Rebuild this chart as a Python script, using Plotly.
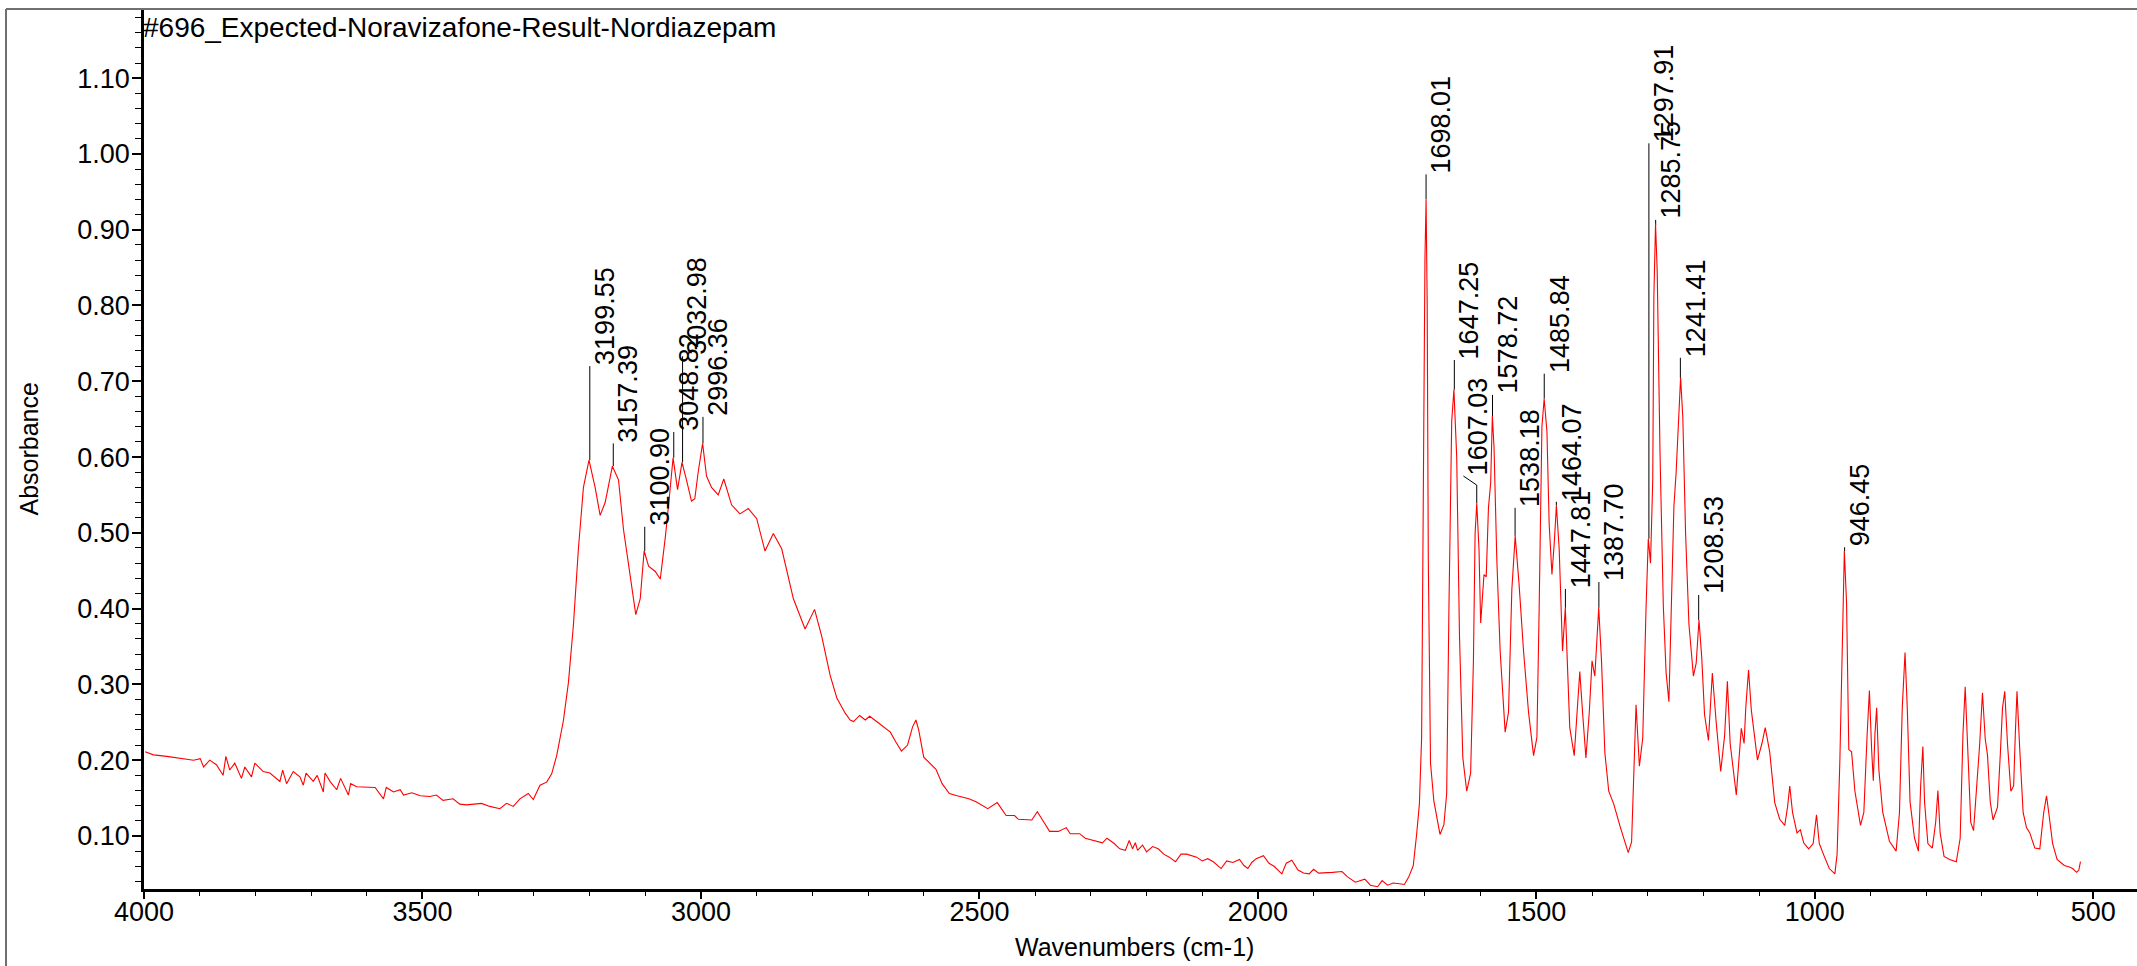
import plotly.graph_objects as go

# ---------------- data ----------------
wavenumber = [
    3998, 3983, 3959, 3935, 3911, 3899, 3893, 3882, 3870, 3858, 3853, 3846, 3837, 3825, 3819,
    3807, 3801, 3786, 3774, 3756, 3751, 3744, 3732, 3720, 3714, 3709, 3696, 3689, 3678, 3675,
    3666, 3654, 3647, 3633, 3629, 3618, 3600, 3585, 3570, 3565, 3552, 3540, 3534, 3519, 3504,
    3487, 3475, 3463, 3445, 3433, 3421, 3394, 3379, 3361, 3349, 3337, 3325, 3310, 3301, 3289,
    3277, 3268, 3259, 3247, 3238, 3229, 3220, 3211, 3201, 3190, 3181, 3172, 3159, 3148, 3139,
    3127, 3117, 3109, 3102, 3094, 3082, 3073, 3064, 3057, 3050, 3042, 3034, 3026, 3017, 3011,
    3005, 2997, 2990, 2981, 2969, 2959, 2945, 2930, 2915, 2900, 2885, 2870, 2855, 2834, 2813,
    2796, 2783, 2768, 2756, 2741, 2732, 2726, 2715, 2705, 2697, 2681, 2667, 2660, 2650, 2640,
    2629, 2620, 2614, 2609, 2600, 2588, 2578, 2567, 2554, 2540, 2519, 2506, 2485, 2468, 2452,
    2437, 2430, 2406, 2396, 2385, 2374, 2358, 2344, 2337, 2320, 2310, 2293, 2279, 2271, 2258,
    2248, 2238, 2231, 2225, 2220, 2216, 2207, 2200, 2189, 2179, 2169, 2159, 2148, 2138, 2128,
    2110, 2100, 2090, 2080, 2066, 2056, 2045, 2033, 2025, 2018, 2011, 2003, 1990, 1980, 1971,
    1957, 1949, 1939, 1928, 1918, 1908, 1900, 1891, 1866, 1849, 1839, 1825, 1808, 1798, 1785,
    1777, 1767, 1757, 1746, 1737, 1729, 1721, 1715, 1710, 1706, 1703, 1700, 1698, 1696, 1694,
    1690, 1684, 1673, 1666, 1661, 1657, 1652, 1648, 1643, 1638, 1632, 1625, 1618, 1613, 1610,
    1607, 1603, 1600, 1597, 1594, 1590, 1586, 1582, 1579, 1576, 1571, 1565, 1556, 1550, 1544,
    1538, 1531, 1523, 1514, 1505, 1499, 1495, 1490, 1486, 1481, 1477, 1472, 1468, 1464, 1459,
    1453, 1448, 1444, 1440, 1432, 1426, 1422, 1417, 1411, 1405, 1400, 1395, 1391, 1388, 1383,
    1377, 1370, 1361, 1349, 1335, 1329, 1325, 1321, 1315, 1309, 1303, 1299, 1295, 1291, 1289,
    1286, 1283, 1278, 1272, 1267, 1262, 1258, 1253, 1249, 1244, 1241, 1237, 1232, 1226, 1218,
    1213, 1208, 1203, 1198, 1191, 1184, 1177, 1169, 1162, 1157, 1152, 1141, 1132, 1127, 1124,
    1119, 1114, 1103, 1095, 1089, 1081, 1072, 1063, 1054, 1049, 1045, 1040, 1032, 1026, 1020,
    1011, 1003, 997, 992, 983, 974, 964, 960, 955, 951, 947, 943, 939, 934, 928,
    918, 912, 906, 902, 898, 895, 892, 889, 885, 878, 866, 854, 848, 843, 838,
    834, 829, 821, 814, 810, 806, 803, 797, 789, 783, 779, 775, 768, 758, 746,
    739, 734, 730, 725, 720, 715, 709, 704, 699, 694, 690, 685, 680, 672, 667,
    663, 659, 654, 648, 643, 640, 637, 632, 626, 620, 614, 605, 596, 589, 584,
    580, 573, 565, 552, 543, 537, 530, 526, 523,
]
absorbance = [
    0.211, 0.207, 0.205, 0.202, 0.200, 0.202, 0.191, 0.200, 0.194, 0.180, 0.205, 0.187, 0.196, 0.176, 0.191,
    0.178, 0.196, 0.185, 0.183, 0.172, 0.187, 0.169, 0.185, 0.178, 0.167, 0.183, 0.172, 0.180, 0.158, 0.183,
    0.172, 0.161, 0.176, 0.154, 0.169, 0.165, 0.165, 0.164, 0.149, 0.164, 0.158, 0.161, 0.154, 0.157, 0.153,
    0.152, 0.154, 0.147, 0.149, 0.142, 0.141, 0.143, 0.139, 0.136, 0.143, 0.139, 0.149, 0.156, 0.148, 0.167,
    0.171, 0.182, 0.206, 0.252, 0.302, 0.378, 0.479, 0.560, 0.596, 0.560, 0.523, 0.540, 0.588, 0.570, 0.504,
    0.439, 0.392, 0.413, 0.476, 0.456, 0.449, 0.439, 0.494, 0.545, 0.599, 0.557, 0.593, 0.570, 0.542, 0.545,
    0.580, 0.618, 0.575, 0.560, 0.550, 0.571, 0.537, 0.525, 0.532, 0.519, 0.476, 0.499, 0.479, 0.413, 0.373,
    0.399, 0.363, 0.312, 0.282, 0.262, 0.253, 0.251, 0.259, 0.253, 0.258, 0.249, 0.241, 0.237, 0.224, 0.212,
    0.220, 0.244, 0.253, 0.240, 0.204, 0.196, 0.188, 0.169, 0.156, 0.153, 0.149, 0.145, 0.136, 0.144, 0.127,
    0.127, 0.122, 0.121, 0.132, 0.119, 0.106, 0.106, 0.111, 0.103, 0.103, 0.097, 0.094, 0.091, 0.097, 0.090,
    0.083, 0.081, 0.094, 0.083, 0.091, 0.081, 0.088, 0.079, 0.086, 0.083, 0.076, 0.072, 0.066, 0.076, 0.076,
    0.072, 0.067, 0.070, 0.066, 0.057, 0.067, 0.065, 0.069, 0.061, 0.057, 0.065, 0.070, 0.074, 0.064, 0.060,
    0.050, 0.064, 0.068, 0.055, 0.051, 0.050, 0.056, 0.051, 0.052, 0.053, 0.046, 0.039, 0.043, 0.035, 0.033,
    0.041, 0.035, 0.038, 0.037, 0.036, 0.046, 0.061, 0.102, 0.142, 0.230, 0.580, 0.862, 0.940, 0.802, 0.465,
    0.196, 0.146, 0.102, 0.115, 0.156, 0.398, 0.647, 0.689, 0.600, 0.364, 0.203, 0.159, 0.183, 0.331, 0.499,
    0.539, 0.479, 0.381, 0.418, 0.445, 0.442, 0.533, 0.566, 0.654, 0.613, 0.465, 0.344, 0.237, 0.263, 0.425,
    0.496, 0.432, 0.344, 0.263, 0.206, 0.230, 0.398, 0.640, 0.677, 0.634, 0.512, 0.445, 0.485, 0.536, 0.479,
    0.344, 0.401, 0.331, 0.243, 0.206, 0.277, 0.317, 0.263, 0.203, 0.263, 0.331, 0.311, 0.358, 0.401, 0.331,
    0.210, 0.159, 0.142, 0.111, 0.078, 0.092, 0.196, 0.273, 0.192, 0.229, 0.402, 0.492, 0.460, 0.570, 0.811,
    0.908, 0.845, 0.607, 0.403, 0.315, 0.277, 0.400, 0.535, 0.580, 0.658, 0.705, 0.652, 0.498, 0.379, 0.311,
    0.328, 0.385, 0.335, 0.260, 0.226, 0.315, 0.249, 0.185, 0.232, 0.304, 0.222, 0.154, 0.242, 0.222, 0.269,
    0.319, 0.266, 0.200, 0.222, 0.243, 0.211, 0.144, 0.122, 0.114, 0.138, 0.166, 0.131, 0.104, 0.108, 0.091,
    0.083, 0.090, 0.128, 0.090, 0.073, 0.057, 0.050, 0.076, 0.200, 0.338, 0.476, 0.407, 0.214, 0.211, 0.159,
    0.114, 0.131, 0.235, 0.292, 0.214, 0.173, 0.235, 0.269, 0.187, 0.131, 0.093, 0.080, 0.131, 0.269, 0.342,
    0.269, 0.145, 0.097, 0.080, 0.166, 0.218, 0.145, 0.090, 0.084, 0.118, 0.160, 0.104, 0.073, 0.069, 0.066,
    0.097, 0.235, 0.297, 0.200, 0.118, 0.107, 0.166, 0.221, 0.289, 0.228, 0.207, 0.145, 0.121, 0.138, 0.207,
    0.269, 0.291, 0.221, 0.159, 0.166, 0.235, 0.291, 0.214, 0.131, 0.111, 0.104, 0.084, 0.083, 0.131, 0.153,
    0.131, 0.090, 0.069, 0.061, 0.059, 0.057, 0.052, 0.055, 0.066,
]

# peak picks: position, curve height, top of marker line, label anchor
peak_labels = ["3199.55", "3157.39", "3100.90", "3048.82", "3032.98", "2996.36", "1698.01",
               "1647.25", "1607.03", "1578.72", "1538.18", "1485.84", "1464.07", "1447.81",
               "1387.70", "1297.91", "1285.75", "1241.41", "1208.53", "946.45"]
peak_wn = [3199.55, 3157.39, 3100.90, 3048.82, 3032.98, 2996.36, 1698.01, 1647.25, 1607.03,
           1578.72, 1538.18, 1485.84, 1464.07, 1447.81, 1387.70, 1297.91, 1285.75, 1241.41,
           1208.53, 946.45]
peak_abs = [0.596, 0.588, 0.476, 0.599, 0.593, 0.618, 0.940, 0.689, 0.539, 0.654, 0.496,
            0.677, 0.536, 0.401, 0.401, 0.492, 0.906, 0.704, 0.385, 0.476]
line_top = [0.720, 0.618, 0.508, 0.633, 0.733, 0.653, 0.973, 0.728, 0.563, 0.682, 0.533,
            0.710, 0.541, 0.426, 0.435, 1.014, 0.913, 0.731, 0.418, 0.481]
label_wn = [3199.55, 3157.39, 3100.90, 3048.82, 3032.98, 2996.36, 1698.01, 1647.25, 1631.0,
            1578.72, 1538.18, 1485.84, 1464.07, 1447.81, 1387.70, 1297.91, 1285.75, 1241.41,
            1208.53, 946.45]
label_base = [0.720, 0.618, 0.508, 0.633, 0.733, 0.653, 0.973, 0.728, 0.575, 0.682, 0.533,
              0.710, 0.541, 0.426, 0.435, 1.014, 0.913, 0.731, 0.418, 0.481]

title_text = "#696_Expected-Noravizafone-Result-Nordiazepam"
x_title = "Wavenumbers (cm-1)"
y_title = "Absorbance"

FONT = "Liberation Sans, Arial, sans-serif"

fig = go.Figure()

# marker lines for peaks
lx, ly = [], []
for w, a, t, lw, lb in zip(peak_wn, peak_abs, line_top, label_wn, label_base):
    lx += [w, w, lw, None]
    ly += [a, t, lb, None]
fig.add_trace(go.Scatter(x=lx, y=ly, mode="lines", line=dict(color="#000000", width=1),
                         hoverinfo="skip", showlegend=False))

fig.add_trace(go.Scatter(x=wavenumber, y=absorbance, mode="lines",
                         line=dict(color="#ff0000", width=1.1), showlegend=False))

for txt, lw, lb in zip(peak_labels, label_wn, label_base):
    fig.add_annotation(x=lw, y=lb, xref="x", yref="y", text=txt, showarrow=False,
                       textangle=-90, xanchor="center", yanchor="bottom", xshift=15,
                       borderpad=0, font=dict(family=FONT, size=27, color="#000000"))

# title & axis titles
fig.add_annotation(x=0, y=1, xref="paper", yref="paper", text=title_text, showarrow=False,
                   xanchor="left", yanchor="middle", xshift=-2, yshift=-17, borderpad=0,
                   font=dict(family=FONT, size=28, color="#000000"))
fig.add_annotation(x=0.5, y=0, xref="paper", yref="paper", text=x_title, showarrow=False,
                   xanchor="center", yanchor="middle", xshift=-6, yshift=-58, borderpad=0,
                   font=dict(family=FONT, size=25, color="#000000"))
fig.add_annotation(x=0, y=0.5, xref="paper", yref="paper", text=y_title, showarrow=False,
                   textangle=-90, xanchor="center", yanchor="middle", xshift=-116, borderpad=0,
                   font=dict(family=FONT, size=25, color="#000000"))

# outer window frame (top and left)
W_PLOT = 2137 - 144
H_PLOT = 889 - 10
def px_x(p):
    return (p - 144) / W_PLOT
def px_y(p):
    return (889 - p) / H_PLOT
fig.add_shape(type="line", xref="paper", yref="paper", x0=px_x(6), x1=px_x(2140),
              y0=px_y(9), y1=px_y(9), line=dict(color="#707070", width=2))
fig.add_shape(type="line", xref="paper", yref="paper", x0=px_x(6), x1=px_x(6),
              y0=px_y(9), y1=px_y(970), line=dict(color="#707070", width=2))

fig.update_layout(
    width=2137, height=966,
    margin=dict(l=144, r=0, t=10, b=77, autoexpand=False),
    paper_bgcolor="white", plot_bgcolor="white",
    font=dict(family=FONT, size=27, color="#000000"),
    xaxis=dict(range=[4000, 4000 - W_PLOT / 0.55694], showgrid=False, zeroline=False,
               showline=True, linecolor="#000000", linewidth=2.5,
               ticks="outside", ticklen=7, tickwidth=1.5, tickcolor="#000000",
               tick0=0, dtick=500, ticklabelstandoff=-10,
               tickfont=dict(family=FONT, size=27, color="#000000"),
               minor=dict(dtick=100, ticks="outside", ticklen=4, tickwidth=1, tickcolor="#000000")),
    yaxis=dict(range=[0.030, 0.030 + H_PLOT / 757.8], showgrid=False, zeroline=False,
               showline=True, linecolor="#000000", linewidth=2.5,
               ticks="outside", ticklen=9, tickwidth=1.5, tickcolor="#000000",
               tick0=0, dtick=0.1, tickformat=".2f", ticklabelstandoff=-3,
               tickfont=dict(family=FONT, size=27, color="#000000"),
               minor=dict(dtick=0.02, ticks="outside", ticklen=6, tickwidth=1, tickcolor="#000000")),
)

fig.write_html("out.html", config={"displayModeBar": False},
               post_script="document.body.style.margin='0';document.body.style.overflow='hidden';")
